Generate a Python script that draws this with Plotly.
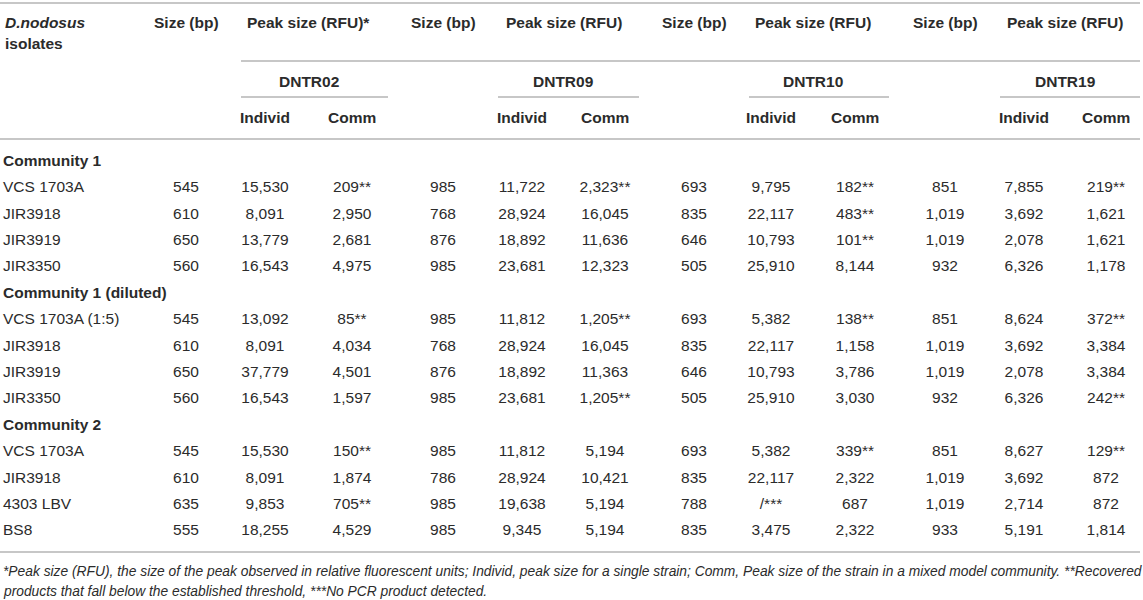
import plotly.graph_objects as go

# rows of the table (group headers included)
row_labels = [
    "Community 1", "VCS 1703A", "JIR3918", "JIR3919", "JIR3350",
    "Community 1 (diluted)", "VCS 1703A (1:5)", "JIR3918", "JIR3919", "JIR3350",
    "Community 2", "VCS 1703A", "JIR3918", "4303 LBV", "BS8",
]
group_rows = ["Community 1", "Community 1 (diluted)", "Community 2"]

markers = ["DNTR02", "DNTR09", "DNTR10", "DNTR19"]

# values for the 12 isolate rows (None = no PCR product)
dntr02_size = [545, 610, 650, 560, 545, 610, 650, 560, 545, 610, 635, 555]
dntr02_indiv = [15530, 8091, 13779, 16543, 13092, 8091, 37779, 16543, 15530, 8091, 9853, 18255]
dntr02_comm = [209, 2950, 2681, 4975, 85, 4034, 4501, 1597, 150, 1874, 705, 4529]
dntr02_low = [1, 0, 0, 0, 1, 0, 0, 0, 1, 0, 1, 0]

dntr09_size = [985, 768, 876, 985, 985, 768, 876, 985, 985, 786, 985, 985]
dntr09_indiv = [11722, 28924, 18892, 23681, 11812, 28924, 18892, 23681, 11812, 28924, 19638, 9345]
dntr09_comm = [2323, 16045, 11636, 12323, 1205, 16045, 11363, 1205, 5194, 10421, 5194, 5194]
dntr09_low = [1, 0, 0, 0, 1, 0, 0, 1, 0, 0, 0, 0]

dntr10_size = [693, 835, 646, 505, 693, 835, 646, 505, 693, 835, 788, 835]
dntr10_indiv = [9795, 22117, 10793, 25910, 5382, 22117, 10793, 25910, 5382, 22117, None, 3475]
dntr10_comm = [182, 483, 101, 8144, 138, 1158, 3786, 3030, 339, 2322, 687, 2322]
dntr10_low = [1, 1, 1, 0, 1, 0, 0, 0, 1, 0, 0, 0]

dntr19_size = [851, 1019, 1019, 932, 851, 1019, 1019, 932, 851, 1019, 1019, 933]
dntr19_indiv = [7855, 3692, 2078, 6326, 8624, 3692, 2078, 6326, 8627, 3692, 2714, 5191]
dntr19_comm = [219, 1621, 1621, 1178, 372, 3384, 3384, 242, 129, 872, 872, 1814]
dntr19_low = [1, 0, 0, 0, 1, 0, 0, 1, 1, 0, 0, 0]

footnote_1 = ("*Peak size (RFU), the size of the peak observed in relative fluorescent units; "
              "Individ, peak size for a single strain; Comm, Peak size of the strain in a mixed "
              "model community. **Recovered")
footnote_2 = "products that fall below the established threshold, ***No PCR product detected."

# layout (pixel space, y pointing down)
W, H = 1143, 600
FONT = "Liberation Sans, Arial, sans-serif"
FS = 15.5
TXT = "#2b2b2b"
RULE = "#b4b4b4"
row_y = [162 + 26.4 * i for i in range(len(row_labels))]
size_x = [186, 443, 694, 945]
indiv_x = [265, 522, 771, 1024]
comm_x = [352, 605, 855, 1106]
label_x = 3


def fmt(v, low=0):
    if v is None:
        return "/***"
    s = f"{v:,}"
    return s + "**" if low else s


data_rows = [y for lab, y in zip(row_labels, row_y) if lab not in group_rows]
columns = [
    (dntr02_size, dntr02_indiv, dntr02_comm, dntr02_low),
    (dntr09_size, dntr09_indiv, dntr09_comm, dntr09_low),
    (dntr10_size, dntr10_indiv, dntr10_comm, dntr10_low),
    (dntr19_size, dntr19_indiv, dntr19_comm, dntr19_low),
]

fig = go.Figure()

# first column: isolate names, group rows bold
fig.add_trace(go.Scatter(
    x=[label_x] * len(row_labels), y=row_y, mode="text",
    text=[f"<b>{lab}</b>" if lab in group_rows else lab for lab in row_labels],
    textposition="middle right", cliponaxis=False,
    textfont=dict(family=FONT, size=FS, color=TXT),
))

for k, (sz, ind, com, low) in enumerate(columns):
    for xs, vals in [(size_x[k], [fmt(v) for v in sz]),
                     (indiv_x[k], [fmt(v) for v in ind]),
                     (comm_x[k], [fmt(v, f) for v, f in zip(com, low)])]:
        fig.add_trace(go.Scatter(
            x=[xs] * len(vals), y=data_rows, mode="text", text=vals,
            textposition="middle center", cliponaxis=False,
            textfont=dict(family=FONT, size=FS, color=TXT),
        ))

# header text
ann = []
def head(x, y, t, anchor="center", size=FS, bold=True):
    ann.append(dict(x=x, y=y, xref="x", yref="y", text=f"<b>{t}</b>" if bold else t,
                    showarrow=False, xanchor=anchor, yanchor="middle",
                    font=dict(family=FONT, size=size, color=TXT)))

head(label_x, 22, "<i>D.nodosus</i>", anchor="left")
head(label_x, 43, "isolates", anchor="left")
for k, m in enumerate(markers):
    head(size_x[k], 22, "Size (bp)")
    mid = (indiv_x[k] + comm_x[k]) / 2
    head(mid, 22, "Peak size (RFU)*" if k == 0 else "Peak size (RFU)")
    head(mid, 81, m)
    head(indiv_x[k], 117, "Individ")
    head(comm_x[k], 117, "Comm")

for yy, t in [(571, footnote_1), (591, footnote_2)]:
    ann.append(dict(x=1, y=yy, xref="x", yref="y", text=f"<i>{t}</i>", showarrow=False,
                    xanchor="left", yanchor="middle",
                    font=dict(family=FONT, size=13.8, color=TXT)))

# horizontal rules
shapes = []
def rule(x0, x1, y):
    shapes.append(dict(type="line", xref="x", yref="y", x0=x0, x1=x1, y0=y, y1=y,
                       line=dict(color=RULE, width=1.6)))

rule(0, 1140, 3)
rule(241, 1140, 61)
for a, b in [(241, 388), (498, 639), (749, 889), (1000, 1140)]:
    rule(a, b, 97)
rule(0, 1140, 139)
rule(0, 1140, 552)

fig.update_layout(
    width=W, height=H,
    margin=dict(l=0, r=0, t=0, b=0),
    paper_bgcolor="white", plot_bgcolor="white",
    showlegend=False, hovermode=False,
    annotations=ann, shapes=shapes,
    xaxis=dict(range=[0, W], visible=False, fixedrange=True),
    yaxis=dict(range=[H, 0], visible=False, fixedrange=True),
)

# drop the default page margin so the table sits flush at the top-left
fig.write_html("out.html", config={"displayModeBar": False},
               post_script="document.body.style.margin='0';")
